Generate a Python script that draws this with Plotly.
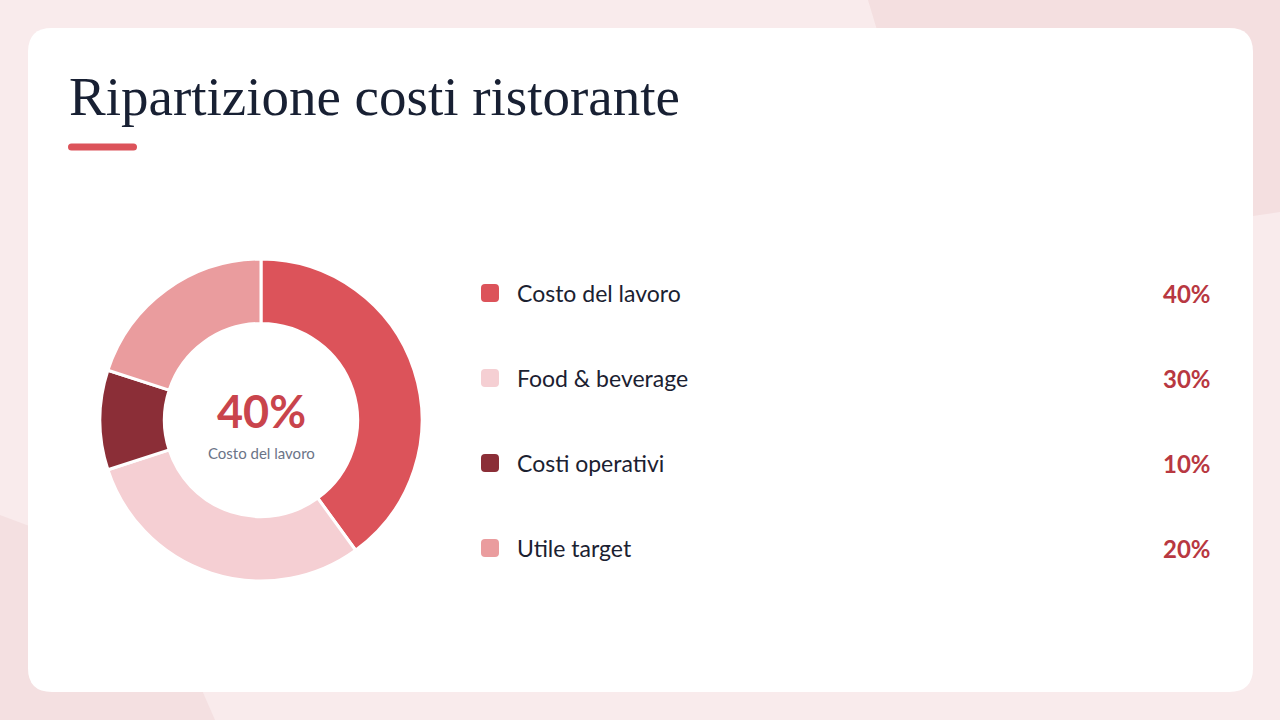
import plotly.graph_objects as go

# ---- data ----
categories = ["Costo del lavoro", "Food & beverage", "Costi operativi", "Utile target"]
values = [40, 30, 10, 20]
colors = ["#DC535A", "#F5CFD3", "#8B2E37", "#EA9C9E"]
title_text = "Ripartizione costi ristorante"
center_value = "40%"
center_label = "Costo del lavoro"

W, H = 1280, 720


def px(x):
    return x / W


def py(y):
    return 1 - y / H


def rrect_path(x0, y0, x1, y1, r):
    pts = [
        ("M", [(x0 + r, y0)]),
        ("L", [(x1 - r, y0)]),
        ("Q", [(x1, y0), (x1, y0 + r)]),
        ("L", [(x1, y1 - r)]),
        ("Q", [(x1, y1), (x1 - r, y1)]),
        ("L", [(x0 + r, y1)]),
        ("Q", [(x0, y1), (x0, y1 - r)]),
        ("L", [(x0, y0 + r)]),
        ("Q", [(x0, y0), (x0 + r, y0)]),
    ]
    s = ""
    for cmd, ps in pts:
        s += cmd + " " + " ".join(f"{px(a):.5f},{py(b):.5f}" for a, b in ps) + " "
    return s + "Z"


def poly_path(points):
    s = "M " + " L ".join(f"{px(a):.5f},{py(b):.5f}" for a, b in points)
    return s + " Z"


shapes = []
# background blobs
shapes.append(dict(type="path", xref="paper", yref="paper", layer="below",
                   path=poly_path([(868, 0), (1280, 0), (1280, 212), (1253, 216), (880, 40)]),
                   fillcolor="#F4DFE0", line=dict(width=0)))
shapes.append(dict(type="path", xref="paper", yref="paper", layer="below",
                   path=poly_path([(0, 515), (40, 530), (180, 640), (215, 720), (0, 720)]),
                   fillcolor="#F4E0E1", line=dict(width=0)))
# card
shapes.append(dict(type="path", xref="paper", yref="paper", layer="below",
                   path=rrect_path(28, 28, 1253, 692, 24),
                   fillcolor="#FFFFFF", line=dict(width=0)))
# accent bar
shapes.append(dict(type="path", xref="paper", yref="paper", layer="below",
                   path=rrect_path(68, 143.5, 137, 150.5, 3.5),
                   fillcolor="#DC535A", line=dict(width=0)))

annotations = []
annotations.append(dict(text=title_text, xref="paper", yref="paper",
                        x=px(67), y=py(97), xanchor="left", yanchor="middle",
                        showarrow=False,
                        font=dict(family="Liberation Serif, DejaVu Serif, serif", size=55, color="#182033")))

# legend rows
row_y0, row_step = 293, 85
for i, (cat, val, col) in enumerate(zip(categories, values, colors)):
    yy = row_y0 + row_step * i
    shapes.append(dict(type="path", xref="paper", yref="paper",
                       path=rrect_path(481, yy - 9, 499, yy + 9, 4),
                       fillcolor=col, line=dict(width=0)))
    annotations.append(dict(text=cat, xref="paper", yref="paper",
                            x=px(515), y=py(yy), xanchor="left", yanchor="middle",
                            showarrow=False,
                            font=dict(family="Lato, sans-serif", size=23, color="#1B2131")))
    annotations.append(dict(text=f"<b>{val}%</b>", xref="paper", yref="paper",
                            x=px(1213), y=py(yy), xanchor="right", yanchor="middle",
                            showarrow=False,
                            font=dict(family="Lato, sans-serif", size=24, color="#B83841")))

# donut center
cx, cy, R = 261, 420, 161
annotations.append(dict(text=f"<b>{center_value}</b>", xref="paper", yref="paper",
                        x=px(cx), y=py(411), xanchor="center", yanchor="middle",
                        showarrow=False,
                        font=dict(family="Lato, sans-serif", size=45, color="#C9444C")))
annotations.append(dict(text=center_label, xref="paper", yref="paper",
                        x=px(cx), y=py(453), xanchor="center", yanchor="middle",
                        showarrow=False,
                        font=dict(family="Lato, sans-serif", size=15, color="#6B7487")))

fig = go.Figure(go.Pie(
    labels=categories, values=values, sort=False, direction="clockwise", rotation=0,
    hole=0.6, textinfo="none", hoverinfo="label+percent",
    marker=dict(colors=colors, line=dict(color="#FFFFFF", width=3)),
    domain=dict(x=[px(cx - R), px(cx + R)], y=[py(cy + R), py(cy - R)]),
    showlegend=False,
))

fig.update_layout(
    width=W, height=H,
    margin=dict(l=0, r=0, t=0, b=0),
    paper_bgcolor="#F9EBEC",
    plot_bgcolor="rgba(0,0,0,0)",
    shapes=shapes,
    annotations=annotations,
    showlegend=False,
)

fig.write_html("out.html", config=dict(displayModeBar=False),
               post_script="document.body.style.margin='0';document.body.style.padding='0';document.body.style.overflow='hidden';")
